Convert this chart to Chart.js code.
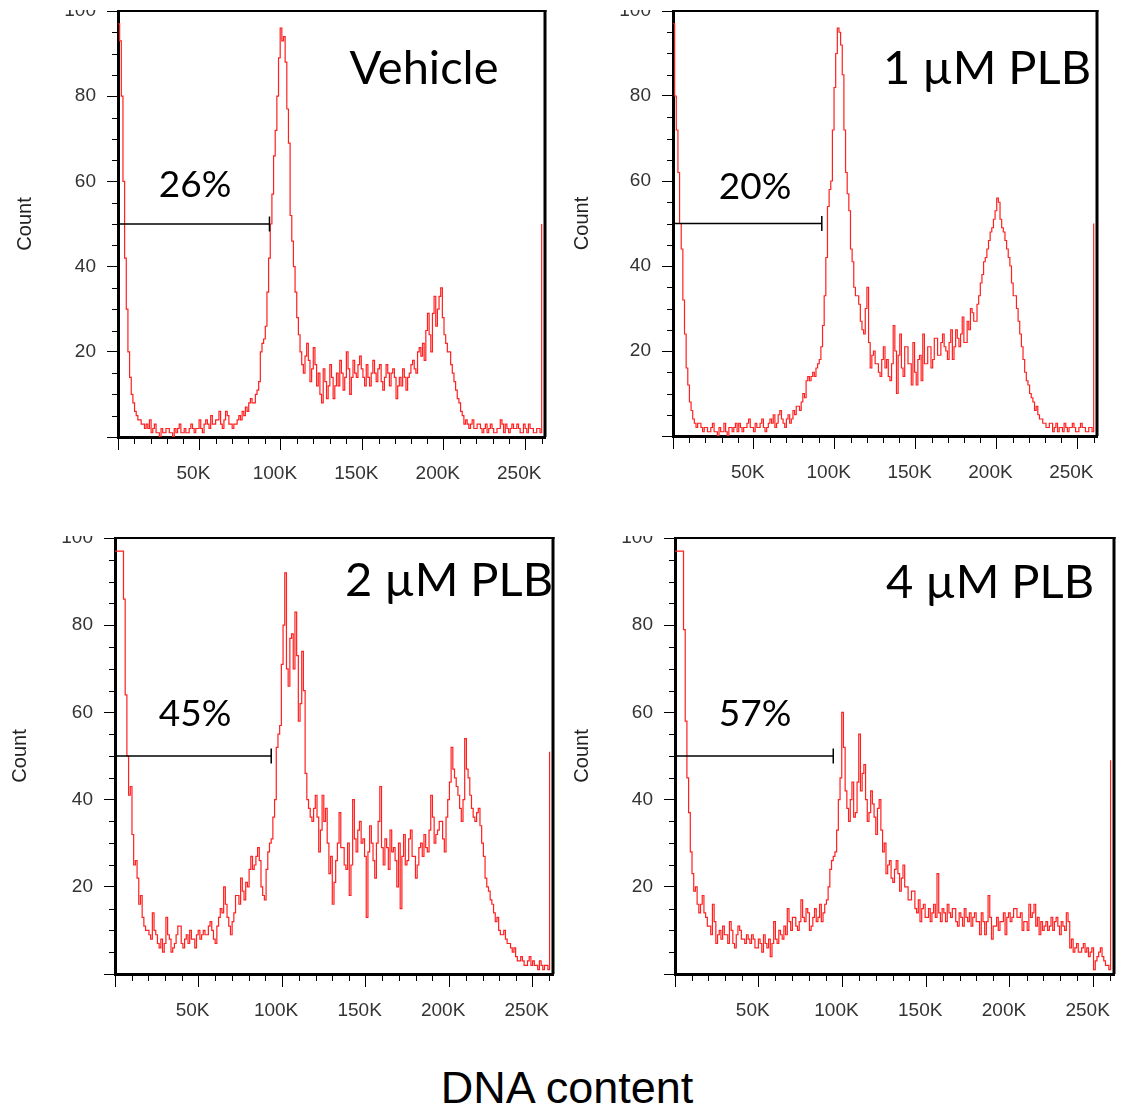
<!DOCTYPE html>
<html><head><meta charset="utf-8">
<script src="https://cdn.jsdelivr.net/npm/chart.js@4.4.1/dist/chart.umd.min.js"></script>
<style>
html,body{margin:0;padding:0;background:#fff;}
body{width:1129px;height:1112px;position:relative;overflow:hidden;}
canvas{position:absolute;}
#title{position:absolute;left:0;width:1134px;text-align:center;top:1065px;font:45px/1 "Liberation Sans",Arial,sans-serif;color:#000;}
</style></head><body>
<canvas id="c0"></canvas><canvas id="c1"></canvas><canvas id="c2"></canvas><canvas id="c3"></canvas>
<div id="title">DNA content</div>
<script>
// ---------- data ----------
const panelNames = ['Vehicle', '1 µM PLB', '2 µM PLB', '4 µM PLB'];
const gatePercents = ['26%', '20%', '45%', '57%'];
const gateLevel = [50, 50, 50, 50];
const gateEnd = [93000, 92000, 93500, 94500];
const overflowCounts = [50, 50, 51, 49];
const BIN_WIDTH = 1016;
const xTickValues = [0, 50000, 100000, 150000, 200000, 250000];
const xTickLabels = ['', '50K', '100K', '150K', '200K', '250K'];
const yTickValues = [0, 20, 40, 60, 80, 100];
const yTickLabels = ['', '20', '40', '60', '80', '100'];

const vehicleCounts = [
 97,93,80,60,42,30,20,14,10,8,6,5,4,4,3,3,
 2,3,2,4,1,2,3,1,1,0,2,1,1,2,2,1,
 1,0,2,1,2,3,1,1,2,1,1,2,3,2,1,2,
 2,4,2,1,3,4,3,2,5,3,3,4,4,6,3,2,
 4,6,5,3,3,2,3,3,4,5,4,6,5,7,6,8,
 9,8,8,10,11,13,20,22,23,26,34,42,50,57,66,72,
 80,89,96,93,94,88,77,69,52,46,40,34,28,24,20,17,
 15,19,22,18,13,16,21,17,12,15,10,8,16,13,9,12,
 17,14,9,12,15,12,18,15,11,14,20,16,10,14,18,15,
 14,17,19,16,14,12,17,14,12,15,18,15,13,16,17,13,
 11,14,17,15,12,15,16,14,9,12,14,12,16,14,11,14,
 15,17,18,16,15,20,21,19,22,18,25,29,24,20,29,33,
 26,30,33,35,28,24,22,20,20,17,15,13,11,9,8,6,
 5,3,4,3,2,3,4,2,2,3,3,2,1,2,3,1,
 2,3,2,1,1,2,2,4,3,1,3,2,1,2,3,2,
 2,3,2,1,1,3,2,1,3,2,2,1,1,2,2,1];
const plb1Counts = [
 97,80,72,62,50,44,32,24,16,12,8,6,4,3,2,3,
 3,2,1,2,2,1,1,2,3,1,1,0,2,1,1,3,
 1,0,2,2,1,2,3,1,3,2,1,2,2,3,4,2,
 2,1,3,2,2,3,4,2,1,2,3,4,3,5,2,3,
 5,6,4,3,2,4,5,3,4,6,5,7,7,6,8,10,
 9,13,14,13,14,15,14,16,17,18,21,26,33,42,54,58,
 60,72,82,90,96,95,92,85,72,62,57,53,44,41,35,33,
 33,31,27,25,24,30,35,22,16,19,20,17,17,15,14,18,
 21,16,18,14,13,17,26,20,10,19,24,16,14,21,21,17,
 17,12,22,15,12,18,19,13,24,17,17,21,21,16,18,23,
 23,19,19,22,24,21,20,18,22,25,18,21,25,23,21,24,
 28,22,22,27,25,30,29,27,27,31,33,36,38,41,42,44,
 46,48,49,51,53,56,55,51,49,48,46,44,42,40,36,33,
 33,30,27,24,21,18,15,13,12,10,9,8,6,7,5,4,
 4,3,3,2,2,3,3,1,2,3,1,2,2,1,3,2,
 1,2,2,3,2,1,1,2,3,2,2,1,1,2,2,1];
const plb2Counts = [
 97,97,97,97,97,86,64,50,41,43,32,25,26,22,16,18,
 13,11,10,10,9,8,14,10,9,7,6,8,5,7,13,9,
 8,5,6,7,9,11,11,7,6,8,9,7,10,8,8,6,
 9,10,8,9,10,9,9,11,12,10,8,7,11,13,15,14,
 20,16,13,11,9,12,14,18,18,16,22,19,17,21,20,24,
 27,24,25,27,29,26,20,18,17,24,28,30,31,36,40,52,
 55,57,71,80,92,70,66,77,78,70,83,73,58,62,74,65,
 46,40,38,36,35,38,41,36,28,33,41,35,38,30,23,27,
 16,21,26,30,37,29,29,25,24,30,18,25,40,31,28,33,
 35,30,31,27,13,28,34,30,26,22,30,35,43,29,25,31,
 29,24,33,28,29,26,20,30,15,27,32,25,26,31,33,27,
 27,22,25,29,30,27,32,29,28,33,41,36,30,32,33,35,
 35,31,28,36,40,44,52,47,45,43,41,38,35,40,54,47,
 45,41,38,36,35,37,38,34,30,27,22,20,19,17,16,14,
 12,13,10,9,9,10,8,7,7,6,5,6,4,3,3,4,
 3,2,2,3,4,2,3,2,2,1,3,2,1,2,2,1];
const plb4Counts = [
 97,97,97,97,97,79,58,45,37,28,23,19,20,16,14,16,
 18,14,13,11,11,9,16,12,7,9,10,8,11,9,9,7,
 12,10,7,6,9,11,10,8,8,7,9,8,7,9,8,6,
 6,8,7,5,9,7,6,8,4,7,12,8,7,10,9,8,
 11,9,15,12,10,13,13,11,10,12,17,13,12,15,14,10,
 11,13,15,12,13,16,12,14,16,17,20,24,26,27,28,33,
 40,45,60,52,42,38,35,40,44,36,37,44,55,42,46,48,
 40,35,37,42,39,36,32,38,40,33,28,30,23,25,26,22,
 21,24,26,23,19,22,25,20,20,17,17,19,19,15,14,17,
 12,15,16,13,13,15,12,14,16,13,23,14,12,15,14,12,
 16,14,13,15,15,12,11,14,13,11,15,13,12,14,11,13,
 14,12,12,9,14,12,9,12,18,13,8,11,11,13,10,12,
 12,14,9,13,14,12,13,15,15,13,13,14,10,12,12,10,
 16,13,14,16,11,13,9,12,10,11,12,10,11,13,10,12,
 13,11,9,12,11,10,14,12,6,8,5,6,7,5,5,6,
 7,5,6,4,5,6,1,3,4,5,6,4,3,2,2,1];
const panelCounts = [vehicleCounts, plb1Counts, plb2Counts, plb4Counts];

// ---------- layout (page pixels) ----------
const layouts = [
 {left:0,   top:10,  w:560, h:490, yW:118, pad:{left:0,top:1,right:15,bottom:3}, xH:60, countPad:13, nameX:424, nameY:84,  pctX:195, pctY:197},
 {left:560, top:10,  w:569, h:490, yW:113, pad:{left:0,top:1,right:32,bottom:4}, xH:60, countPad:10, nameX:987, nameY:84,  pctX:755, pctY:199},
 {left:0,   top:536, w:560, h:500, yW:115, pad:{left:0,top:2,right:7, bottom:2}, xH:60, countPad:8,  nameX:449, nameY:596, pctX:195, pctY:726},
 {left:560, top:536, w:569, h:500, yW:115, pad:{left:0,top:2,right:15,bottom:2}, xH:60, countPad:10, nameX:990, nameY:598, pctX:755, pctY:726}
];

const decor = {
  id: 'decor',
  afterDraw(chart, args, o) {
    const {ctx, chartArea: a, scales: {x, y}} = chart;
    ctx.save();
    ctx.strokeStyle = '#000';
    ctx.lineWidth = 1;
    ctx.beginPath();
    for (let v = 5; v < 100; v += 5) {
      if (v % 20 === 0) continue;
      const py = Math.round(y.getPixelForValue(v)) + 0.5;
      ctx.moveTo(a.left - 6, py); ctx.lineTo(a.left, py);
    }
    for (let v = 10000; v <= 260000; v += 10000) {
      if (v % 50000 === 0) continue;
      const px = Math.round(x.getPixelForValue(v)) + 0.5;
      ctx.moveTo(px, a.bottom); ctx.lineTo(px, a.bottom + 7);
    }
    ctx.stroke();
    ctx.lineWidth = 2;
    ctx.beginPath(); ctx.moveTo(a.left, a.top); ctx.lineTo(a.right + 1.5, a.top); ctx.stroke();
    ctx.lineWidth = 3;
    ctx.beginPath(); ctx.moveTo(a.right, a.top - 1); ctx.lineTo(a.right, a.bottom); ctx.stroke();
    ctx.fillStyle = '#000';
    ctx.textAlign = 'center';
    ctx.textBaseline = 'alphabetic';
    ctx.font = '47px Lato, "Open Sans", sans-serif';
    ctx.fillText(o.name, o.nameX - o.offX, o.nameY - o.offY);
    ctx.font = '37px Lato, "Open Sans", sans-serif';
    ctx.fillText(o.pct, o.pctX - o.offX, o.pctY - o.offY);
    ctx.restore();
  }
};

Chart.defaults.font.family = '"Liberation Sans", Arial, sans-serif';

panelCounts.forEach((counts, i) => {
  const L = layouts[i];
  const cv = document.getElementById('c' + i);
  cv.width = L.w; cv.height = L.h;
  cv.style.left = L.left + 'px'; cv.style.top = L.top + 'px';
  cv.style.width = L.w + 'px'; cv.style.height = L.h + 'px';
  const pts = counts.map((v, k) => ({x: k * BIN_WIDTH, y: v}));
  pts.push({x: counts.length * BIN_WIDTH, y: overflowCounts[i]});
  new Chart(cv, {
    type: 'line',
    data: {
      datasets: [
        {data: [{x: 0, y: gateLevel[i]}, {x: gateEnd[i], y: gateLevel[i]}],
         borderColor: '#000', borderWidth: 1.5, pointRadius: [0, 7.5], pointHoverRadius: 0,
         pointStyle: 'line', pointRotation: 90, pointBorderColor: '#000', pointBorderWidth: 1.5},
        {data: pts, borderColor: '#ff2020', borderWidth: 1.2, pointRadius: 0, pointHoverRadius: 0,
         stepped: true, fill: false}
      ]
    },
    options: {
      responsive: false, animation: false, devicePixelRatio: 1,
      layout: {padding: L.pad, autoPadding: false},
      plugins: {legend: {display: false}, tooltip: {enabled: false},
        decor: {name: panelNames[i], pct: gatePercents[i], nameX: L.nameX, nameY: L.nameY,
                pctX: L.pctX, pctY: L.pctY, offX: L.left, offY: L.top}},
      events: [],
      scales: {
        x: {type: 'linear', min: 0, max: 262144,
            afterFit: s => { s.height = L.xH; s.paddingLeft = 0; s.paddingRight = 0; },
            border: {display: true, color: '#000', width: 3},
            grid: {drawOnChartArea: false, drawTicks: true, tickLength: 13, color: '#000', lineWidth: 1},
            afterBuildTicks: s => { s.ticks = xTickValues.map(v => ({value: v})); },
            ticks: {autoSkip: false, maxRotation: 0, includeBounds: false, padding: 12, labelOffset: -6,
                    color: '#333', font: {size: 19},
                    callback: v => xTickLabels[xTickValues.indexOf(v)] ?? ''}},
        y: {type: 'linear', min: 0, max: 100,
            afterFit: s => { s.width = L.yW; s.paddingTop = 0; s.paddingBottom = 0; },
            border: {display: true, color: '#000', width: 3},
            grid: {drawOnChartArea: false, drawTicks: true, tickLength: 11, color: '#000', lineWidth: 1},
            afterBuildTicks: s => { s.ticks = yTickValues.map(v => ({value: v})); },
            ticks: {autoSkip: false, padding: 11, color: '#333', font: {size: 19},
                    callback: v => yTickLabels[yTickValues.indexOf(v)] ?? ''},
            title: {display: true, text: 'Count', color: '#222', font: {size: 20},
                    padding: {top: L.countPad, bottom: 0}}}
      }
    },
    plugins: [decor]
  });
});
</script>
</body></html>
